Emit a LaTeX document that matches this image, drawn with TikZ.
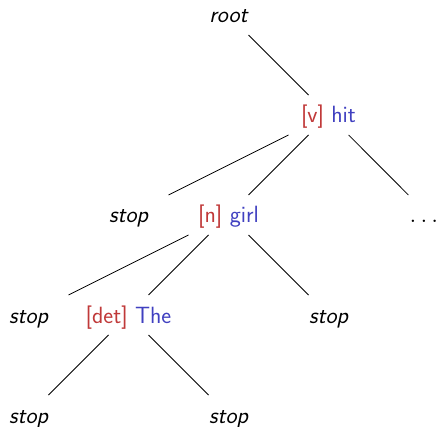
\documentclass[tikz,border=0pt]{standalone}
\usetikzlibrary{calc}
\definecolor{catred}{RGB}{192,57,57}
\definecolor{wordblue}{RGB}{64,64,192}
\begin{document}
\begin{tikzpicture}[x=1pt,y=-1pt,
  lbl/.style={font=\sffamily\fontsize{23.5}{28}\selectfont, inner sep=0pt,
    text height=16pt, text depth=0pt, anchor=base},
  term/.style={lbl, font=\sffamily\itshape\fontsize{23.5}{28}\selectfont},
  edge/.style={draw=black, line width=0.8pt}]
\useasboundingbox (0,0) rectangle (438,427);
\newcommand{\cat}[1]{\textcolor{catred}{[#1]}}
\newcommand{\wrd}[1]{\textcolor{wordblue}{#1}}
\node[term] (root) at (228.5,23) {root};
\node[lbl] (hit) at (328.5,123) {\cat{v} \wrd{hit}};
\node[term] (s1) at (128.5,223) {stop};
\node[lbl] (girl) at (228.5,223) {\cat{n} \wrd{girl}};
\node[lbl] (dots) at (424,223) {$\ldots$};
\node[term] (s2) at (28.5,323) {stop};
\node[lbl] (the) at (128.5,323) {\cat{det} \wrd{The}};
\node[term] (s3) at (328.5,323) {stop};
\node[term] (s4) at (28.5,423) {stop};
\node[term] (s5) at (228.5,423) {stop};
\foreach \p/\c in {root/hit, hit/s1, hit/girl, girl/s2, girl/the, girl/s3, the/s4, the/s5}
  \draw[edge] ($(\p)!0.2!(\c)$) -- ($(\p)!0.8!(\c)$);
\draw[edge] ($(hit)!0.2!(dots)+(1,0)$) -- ($(hit)!0.8!(dots)+(3.5,0)$);
\end{tikzpicture}
\end{document}
